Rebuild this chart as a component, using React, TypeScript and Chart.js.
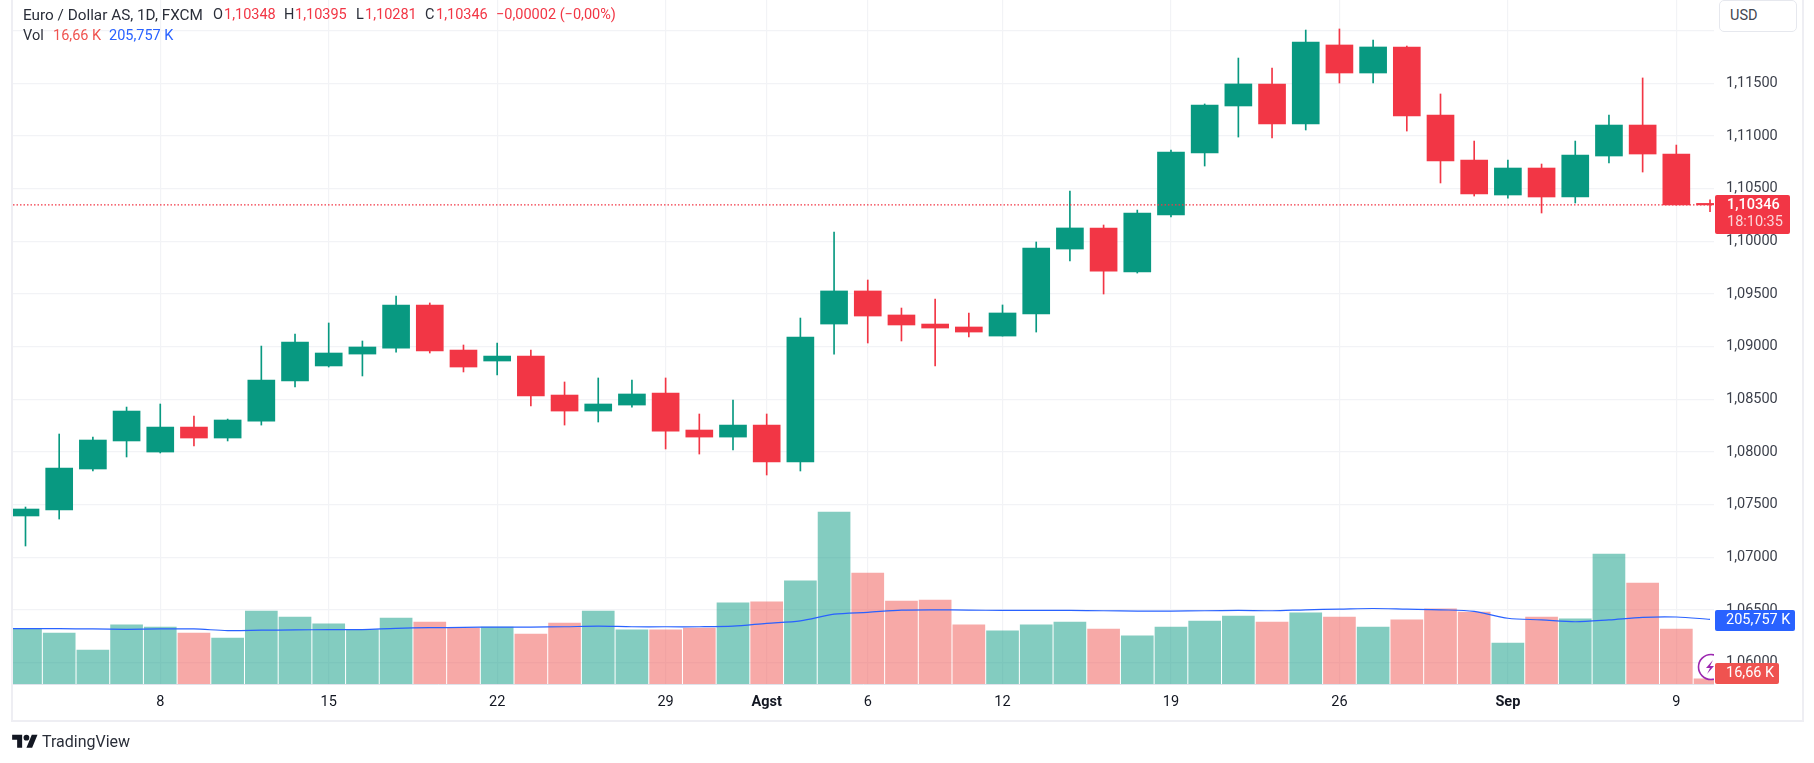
import React, { useEffect, useRef } from 'react';
import { Chart, registerables } from 'chart.js';

Chart.register(...registerables);

// daily bars, Jul 2 .. Sep 10
const opens = [
  1.07393, 1.0745, 1.07839, 1.08105, 1.08, 1.08237, 1.08133, 1.08294, 1.08674, 1.08817,
  1.0893, 1.08987, 1.09396, 1.08968, 1.08864, 1.08911, 1.08541, 1.08389, 1.08446, 1.0856,
  1.08209, 1.08142, 1.08256, 1.07905, 1.09215, 1.09529, 1.09301, 1.09215, 1.09187, 1.09101,
  1.0931, 1.09927, 1.10127, 1.09709, 1.1025, 1.10839, 1.11285, 1.11494, 1.11114, 1.11864,
  1.11598, 1.11845, 1.11199, 1.10772, 1.1044, 1.10696, 1.10421, 1.1081, 1.11104, 1.10829,
  1.10348,
];
const highs = [
  1.07478, 1.08171, 1.08142, 1.08427, 1.08456, 1.08342, 1.08313, 1.09006, 1.0912, 1.09225,
  1.09054, 1.09481, 1.09415, 1.09016, 1.09035, 1.08968, 1.08665, 1.08703, 1.08684, 1.08703,
  1.08361, 1.08494, 1.08361, 1.09272, 1.10089, 1.09633, 1.09367, 1.09453, 1.0932, 1.09396,
  1.09994, 1.10478, 1.10155, 1.10297, 1.10867, 1.11304, 1.1174, 1.11645, 1.12006, 1.12016,
  1.11911, 1.11854, 1.11399, 1.10952, 1.10772, 1.10734, 1.10952, 1.11199, 1.11551, 1.10914,
  1.10395,
];
const lows = [
  1.07108, 1.07364, 1.0782, 1.07953, 1.07991, 1.08057, 1.08105, 1.08256, 1.08617, 1.08807,
  1.08722, 1.08949, 1.0894, 1.0876, 1.08731, 1.08437, 1.08256, 1.08285, 1.08427, 1.08029,
  1.07981, 1.08019, 1.07782, 1.0782, 1.0893, 1.09035, 1.09054, 1.08817, 1.09092, 1.09101,
  1.09139, 1.09813, 1.095, 1.09699, 1.10231, 1.10715, 1.1099, 1.10981, 1.11057, 1.11503,
  1.11503, 1.11047, 1.10554, 1.1043, 1.10411, 1.10269, 1.10364, 1.10744, 1.10658, 1.10345,
  1.10281,
];
const closes = [
  1.07459, 1.07848, 1.08114, 1.08389, 1.08237, 1.08133, 1.08304, 1.08684, 1.09044, 1.0894,
  1.08997, 1.09396, 1.08959, 1.08807, 1.08911, 1.08532, 1.08389, 1.08456, 1.08551, 1.08199,
  1.08142, 1.08256, 1.07905, 1.09092, 1.09529, 1.09291, 1.09206, 1.09177, 1.09139, 1.0932,
  1.09937, 1.10127, 1.09718, 1.10269, 1.10848, 1.11294, 1.11494, 1.11114, 1.11892, 1.11598,
  1.11845, 1.1119, 1.10763, 1.10449, 1.10696, 1.10421, 1.1082, 1.11104, 1.10829, 1.10345,
  1.10346,
];
// volume, in thousands
const volumes = [
  174, 162, 108, 188, 181, 162, 146, 232, 213, 191,
  173, 210, 197, 178, 181, 159, 194, 232, 172, 172,
  178, 258, 261, 328, 547, 353, 264, 267, 188, 169,
  188, 197, 175, 153, 181, 200, 216, 197, 226, 213,
  181, 204, 239, 229, 130, 213, 207, 413, 321, 175,
  16.66,
];
const volumeMa = [
  176, 176, 175, 174, 175, 175, 170, 171, 172, 173,
  173, 177, 179, 180, 181, 181, 182, 184, 182, 182,
  182, 184, 193, 201, 222, 228, 235, 236, 235, 234,
  234, 234, 233, 232, 232, 233, 234, 233, 236, 238,
  240, 238, 236, 231, 209, 204, 198, 204, 212, 213,
  205.757,
];
const volumeMaBefore = 176; // the average runs off the left edge
const tickIndexes = [4, 9, 14, 19, 22, 25, 29, 34, 39, 44, 49];
const tickLabels = ['8', '15', '22', '29', 'Agst', '6', '12', '19', '26', 'Sep', '9'];
const boldTicks = ['Agst', 'Sep'];

const lastPrice = 1.10346;
const priceMin = 1.05798;
const priceMax = 1.12291;
const volumeMax = 2175;
const indexMin = -0.371;
const indexMax = 50.118;

const UP = '#089981';
const DOWN = '#F23645';
const UP_VOL = 'rgba(8, 153, 129, 0.5)';
const DOWN_VOL = 'rgba(239, 83, 80, 0.5)';
const GRID = '#f2f3f6';
const FONT = 'Roboto, sans-serif';

const isUp = (i: number) => closes[i] >= opens[i];

const Label = ({ x, y, color, text, weight, size }: { x: number; y: number; color: string; text: string; weight?: number; size?: number }) => (
  <span
    style={{
      position: 'absolute', left: x, top: y, lineHeight: '18px', fontSize: size || 14.5,
      color, fontWeight: weight || 400, whiteSpace: 'nowrap',
    }}
  >
    {text}
  </span>
);

const Badge = ({ x, y, w, h, bg }: { x: number; y: number; w: number; h: number; bg: string }) => (
  <div style={{ position: 'absolute', left: x, top: y, width: w, height: h, background: bg, borderRadius: 2 }} />
);

export default function App() {
  const canvasRef = useRef<HTMLCanvasElement>(null);

  useEffect(() => {
    if (!canvasRef.current) return;
    const xs = opens.map((_, i) => i);

    const chart = new Chart(canvasRef.current, {
      type: 'bar',
      data: {
        datasets: [
          {
            type: 'line',
            data: [{ x: indexMin, y: lastPrice }, { x: indexMax, y: lastPrice }],
            yAxisID: 'y',
            borderColor: DOWN,
            borderWidth: 1.2,
            borderDash: [1.5, 2],
            pointRadius: 0,
            order: 0,
          },
          {
            type: 'line',
            data: [{ x: -1, y: volumeMaBefore }, ...xs.map((i) => ({ x: i, y: volumeMa[i] }))],
            yAxisID: 'yv',
            borderColor: '#2962FF',
            borderWidth: 1.2,
            tension: 0.3,
            pointRadius: 0,
            order: 1,
          },
          {
            data: xs.map((i) => ({ x: i, y: [opens[i], closes[i]] })),
            yAxisID: 'y',
            backgroundColor: xs.map((i) => (isUp(i) ? UP : DOWN)),
            barThickness: 27,
            minBarLength: 1.5,
            grouped: false,
            order: 2,
          },
          {
            data: xs.map((i) => ({ x: i, y: [lows[i], highs[i]] })),
            yAxisID: 'y',
            backgroundColor: xs.map((i) => (isUp(i) ? UP : DOWN)),
            barThickness: 1,
            grouped: false,
            order: 3,
          },
          {
            data: xs.map((i) => ({ x: i, y: volumes[i] })),
            yAxisID: 'yv',
            backgroundColor: xs.map((i) => (isUp(i) ? UP_VOL : DOWN_VOL)),
            barThickness: 32,
            grouped: false,
            order: 4,
          },
        ],
      } as any,
      options: {
        responsive: false,
        animation: false,
        layout: { padding: { left: 13, right: 13, top: 0, bottom: 45 } },
        plugins: { legend: { display: false }, tooltip: { enabled: false } },
        scales: {
          x: {
            type: 'linear',
            offset: false,
            min: indexMin,
            max: indexMax,
            grid: { offset: false, color: GRID, lineWidth: 1.2, drawTicks: false },
            border: { display: true, color: '#e0e3eb', width: 1 },
            afterBuildTicks: (scale: any) => {
              scale.ticks = tickIndexes.map((value) => ({ value }));
            },
            afterFit: (scale: any) => {
              scale.height = 34;
              scale.paddingLeft = 0;
              scale.paddingRight = 0;
            },
            ticks: {
              autoSkip: false,
              maxRotation: 0,
              padding: 10,
              color: '#131722',
              font: (ctx: any) => ({
                family: FONT,
                size: 14.5,
                weight: boldTicks.includes(tickLabels[tickIndexes.indexOf(ctx.tick?.value)]) ? 'bold' : 'normal',
              }),
              callback: (value: any) => tickLabels[tickIndexes.indexOf(value)],
            },
          },
          y: {
            type: 'linear',
            position: 'right',
            min: priceMin,
            max: priceMax,
            grid: { color: GRID, lineWidth: 1.2, drawTicks: false },
            border: { display: false },
            afterFit: (scale: any) => {
              scale.width = 87;
              // chart area has to reach the top of the canvas
              scale.paddingTop = 0;
              scale.paddingBottom = 0;
            },
            ticks: {
              stepSize: 0.005,
              includeBounds: false,
              padding: 12,
              color: '#3b3f4a',
              font: { family: FONT, size: 14.5 },
              callback: (value: any) => Number(value).toFixed(5).replace('.', ','),
            },
          },
          yv: {
            type: 'linear',
            display: false,
            min: 0,
            max: volumeMax,
          },
        },
      } as any,
    });

    return () => chart.destroy();
  }, []);

  return (
    <div style={{ position: 'fixed', left: 0, top: 0, width: 1814, height: 763, background: '#fff', overflow: 'hidden', fontFamily: FONT }}>
      <canvas ref={canvasRef} width={1814} height={763} style={{ position: 'absolute', left: 0, top: 0, width: 1814, height: 763 }} />

      {/* frame round the widget */}
      <div style={{ position: 'absolute', left: 11, top: -4, width: 1789, height: 722, border: '2px solid #eeeef3' }} />

      {/* legend */}
      <Label x={23} y={6} color="#2a2e39" text="Euro / Dollar AS, 1D, FXCM" size={15.3} />
      <Label x={213} y={6} color="#2a2e39" text="O" />
      <Label x={224} y={6} color={DOWN} text="1,10348" />
      <Label x={284} y={6} color="#2a2e39" text="H" />
      <Label x={295} y={6} color={DOWN} text="1,10395" />
      <Label x={356} y={6} color="#2a2e39" text="L" />
      <Label x={365} y={6} color={DOWN} text="1,10281" />
      <Label x={425} y={6} color="#2a2e39" text="C" />
      <Label x={436} y={6} color={DOWN} text="1,10346" />
      <Label x={496} y={6} color={DOWN} text="−0,00002 (−0,00%)" />
      <Label x={23} y={27} color="#2a2e39" text="Vol" />
      <Label x={53} y={27} color="#EF5350" text="16,66 K" />
      <Label x={109} y={27} color="#2962FF" text="205,757 K" />

      {/* currency button, it sits over the top scale label */}
      <div style={{ position: 'absolute', left: 1719, top: 0, width: 78, height: 37, background: '#fff' }} />
      <div style={{ position: 'absolute', left: 1719, top: 0, width: 78, height: 32, background: '#fff', border: '1px solid #e6e8ee', borderRadius: 5, boxSizing: 'border-box' }} />
      <Label x={1730} y={7} color="#434651" text="USD" />

      {/* flash icon at the right end of the pane */}
      <svg width="18" height="28" style={{ position: 'absolute', left: 1696, top: 653 }}>
        <circle cx="15" cy="14" r="12.5" fill="#fff" stroke="#9C27B0" strokeWidth="1.6" />
        <path d="M17 7 L10 15 L14 15 L11 21 L18 13 L14 13 Z" fill="#9C27B0" />
      </svg>

      {/* price scale badges */}
      <Badge x={1715} y={195} w={75} h={39} bg={DOWN} />
      <Label x={1727} y={196} color="#fff" text="1,10346" weight={500} />
      <Label x={1727} y={213} color="#fbd5d8" text="18:10:35" />
      <Badge x={1715} y={610} w={80} h={21} bg="#2962FF" />
      <Label x={1726} y={611} color="#fff" text="205,757 K" />
      <Badge x={1715} y={663} w={64} h={21} bg="#EF5350" />
      <Label x={1726} y={664} color="#fff" text="16,66 K" />

      {/* attribution */}
      <svg width="26" height="20" viewBox="0 0 36 28" style={{ position: 'absolute', left: 12, top: 732 }}>
        <path d="M14 22H7V11H0V4h14v18zM28 22h-8l7.5-18h8L28 22z" fill="#131722" />
        <circle cx="20" cy="8" r="4" fill="#131722" />
      </svg>
      <span style={{ position: 'absolute', left: 42, top: 732, fontSize: 16, lineHeight: '20px', color: '#2a2e39', whiteSpace: 'nowrap' }}>TradingView</span>
    </div>
  );
}
